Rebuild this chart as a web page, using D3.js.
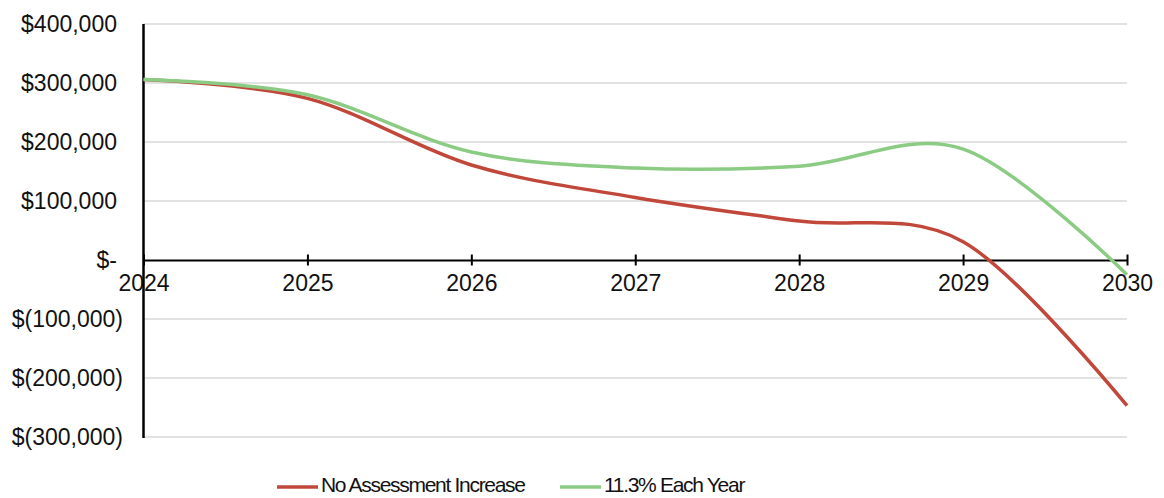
<!DOCTYPE html>
<html>
<head>
<meta charset="utf-8">
<script src="https://cdn.jsdelivr.net/npm/d3@7"></script>
<style>
    body { margin: 0; background: #fff; }
    svg text { font-family: "Liberation Sans", Arial, Helvetica, sans-serif; fill: #111; }
</style>
</head>
<body>
<div id="chart"></div>
<script>
// chart values
const years = [2024, 2025, 2026, 2027, 2028, 2029, 2030];
const noIncrease = [306000, 274000, 161000, 106000, 66000, 31000, -247000];
const elevenPct = [306000, 280000, 183000, 156000, 159000, 188000, -25000];
const yTicks = [400000, 300000, 200000, 100000, 0, -100000, -200000, -300000];
const seriesNames = ['No Assessment Increase', '11.3% Each Year'];
const seriesColors = ['#c1473a', '#8bcb84'];

const width = 1164, height = 498;

const svg = d3.select('#chart')
    .append('svg')
    .attr('width', width)
    .attr('height', height);

const x = d3.scaleLinear().domain([2024, 2030]).range([143.5, 1127]);
const y = d3.scaleLinear().domain([-300000, 400000]).range([437, 24]);

// accounting style labels
function money(v) {
    if (v === 0) return '$-';
    const s = d3.format(',')(Math.abs(v));
    return v < 0 ? '$(' + s + ')' : '$' + s;
}

// gridlines
svg.append('g')
    .selectAll('line')
    .data(yTicks.filter(d => d !== 0))
    .enter()
    .append('line')
    .attr('x1', x(2024))
    .attr('x2', x(2030))
    .attr('y1', d => y(d))
    .attr('y2', d => y(d))
    .attr('stroke', '#d9d9d9')
    .attr('stroke-width', 1.5);

// y labels
svg.append('g')
    .selectAll('text')
    .data(yTicks)
    .enter()
    .append('text')
    .attr('x', d => d < 0 ? 123 : 117)
    .attr('y', d => y(d))
    .attr('dy', '0.35em')
    .attr('text-anchor', 'end')
    .style('font-size', '23px')
    .text(money);

// x axis at zero
const xAxis = d3.axisBottom(x)
    .tickValues(years)
    .tickFormat(d3.format('d'))
    .tickSizeInner(0)
    .tickSizeOuter(0)
    .tickPadding(0);

const gx = svg.append('g')
    .attr('transform', `translate(0,${y(0)})`)
    .call(xAxis);
gx.select('.domain').attr('stroke', '#000').attr('stroke-width', 2);
gx.selectAll('.tick line')
    .attr('y1', -5.5)
    .attr('y2', 5.5)
    .attr('stroke', '#000')
    .attr('stroke-width', 2);
gx.selectAll('.tick text')
    .attr('y', 31)
    .attr('dy', 0)
    .style('font-size', '23px')
    .style('font-family', '"Liberation Sans", Arial, sans-serif')
    .attr('fill', '#111');

// y axis line
svg.append('line')
    .attr('x1', x(2024))
    .attr('x2', x(2024))
    .attr('y1', y(400000))
    .attr('y2', y(-300000) + 1)
    .attr('stroke', '#000')
    .attr('stroke-width', 2.5);

// series lines
const line = d3.line()
    .x(d => x(d[0]))
    .y(d => y(d[1]))
    .curve(d3.curveCardinal.tension(0));

[noIncrease, elevenPct].forEach((vals, i) => {
    svg.append('path')
        .datum(years.map((yr, j) => [yr, vals[j]]))
        .attr('d', line)
        .attr('fill', 'none')
        .attr('stroke', seriesColors[i])
        .attr('stroke-width', 3.5);
});

// legend
const legendX = [277, 560];
const legend = svg.append('g');
seriesNames.forEach((name, i) => {
    legend.append('line')
        .attr('x1', legendX[i])
        .attr('x2', legendX[i] + 41)
        .attr('y1', 487)
        .attr('y2', 487)
        .attr('stroke', seriesColors[i])
        .attr('stroke-width', 3.5);
    legend.append('text')
        .attr('x', legendX[i] + 44)
        .attr('y', 492)
        .style('font-size', '21px')
        .style('letter-spacing', '-1.3px')
        .text(name);
});
</script>
</body>
</html>
